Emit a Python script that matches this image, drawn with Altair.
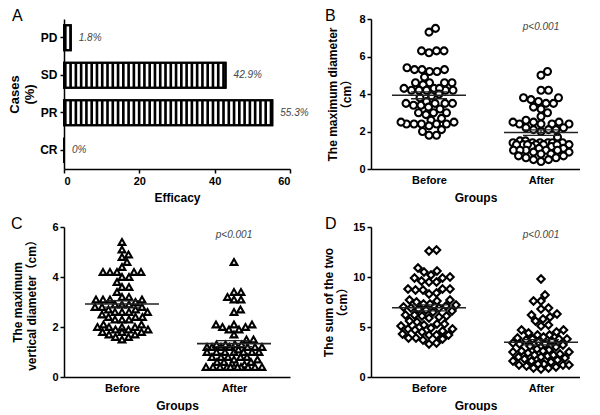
import altair as alt
import numpy as np
import pandas as pd

# ---------------- data ----------------
A_cats = ["CR", "PR", "SD", "PD"]
A_vals = [0.0, 55.3, 42.9, 1.8]
A_labels = ["0%", "55.3%", "42.9%", "1.8%"]

groups = ["Before", "After"]

B_before = [7.3, 7.5, 6.3, 6.3, 6.2, 6.3, 5.3, 5.3, 5.2, 5.2, 5.3, 5.4, 4.9, 4.6, 4.6, 4.6, 4.6, 4.5,
            4.3, 4.2, 4.2, 4.2, 4.3, 4.2, 4.2, 4.3, 4.0, 3.9, 3.8, 3.5, 3.5, 3.4, 3.5, 3.5, 3.4, 3.6,
            3.2, 3.0, 3.0, 2.9, 3.0, 3.3, 2.7, 2.6, 2.4, 2.4, 2.5, 2.4, 2.3, 2.4, 2.4, 2.5, 2.0, 2.1,
            1.8, 1.8]
B_after = [5.0, 5.2, 4.2, 4.2, 3.8, 3.6, 3.5, 3.5, 3.7, 3.8, 3.3, 3.2, 3.0, 2.8, 2.4, 2.4, 2.5, 2.5,
           2.5, 2.6, 2.4, 2.4, 2.2, 2.1, 2.1, 2.0, 2.2, 2.1, 1.7, 1.5, 1.4, 1.4, 1.4, 1.5, 1.4, 1.4,
           1.4, 1.3, 1.3, 1.2, 1.3, 1.3, 1.3, 1.3, 1.2, 1.3, 1.1, 1.0, 1.0, 1.0, 1.1, 1.0, 1.0, 0.9,
           0.8, 0.8, 0.9, 0.7, 0.6, 0.7, 0.6, 0.5, 0.4, 0.5]
C_before = [5.4, 5.1, 4.9, 4.8, 4.6, 4.4, 4.2, 4.2, 4.2, 4.2, 4.2, 4.0, 4.0, 3.8, 3.6, 3.6, 3.4, 3.2,
            3.1, 3.1, 3.1, 3.1, 3.2, 3.0, 2.9, 2.9, 2.8, 2.9, 2.8, 2.8, 2.7, 2.6, 2.6, 2.6, 2.7, 2.6,
            2.5, 2.4, 2.3, 2.3, 2.3, 2.4, 2.4, 2.1, 2.0, 2.0, 2.1, 2.0, 2.0, 1.9, 1.9, 1.9, 1.8, 1.8,
            1.7, 1.6, 1.5, 1.6, 1.7, 1.8]
C_after = [4.6, 3.4, 3.2, 3.1, 3.1, 3.4, 2.7, 2.6, 2.1, 2.1, 2.1, 2.0, 1.9, 1.9, 2.0, 1.7, 1.5, 1.5,
           1.3, 1.3, 1.2, 1.2, 1.2, 1.2, 1.2, 1.3, 1.2, 1.2, 1.3, 1.0, 1.0, 1.0, 1.0, 1.1, 1.0, 1.0,
           1.0, 0.8, 0.8, 0.8, 0.7, 0.8, 0.8, 0.7, 0.6, 0.6, 0.5, 0.6, 0.4, 0.4, 0.4, 0.4, 0.4, 0.4,
           0.4, 0.4, 0.4, 0.4, 0.4]
D_before = [12.6, 12.7, 10.9, 10.6, 10.2, 10.5, 9.9, 9.9, 10.0, 9.6, 9.5, 9.5, 8.8, 8.8, 8.7, 8.7,
            8.8, 8.4, 8.3, 7.7, 7.7, 7.5, 7.6, 7.3, 7.3, 7.2, 7.1, 7.0, 6.9, 6.9, 6.8, 6.7, 6.6, 6.5,
            6.2, 6.1, 6.1, 6.0, 5.9, 6.2, 5.6, 5.5, 5.3, 5.3, 5.2, 5.1, 4.9, 4.8, 4.7, 4.8, 4.5, 4.6,
            4.3, 4.2, 4.2, 4.2, 3.9, 3.9, 3.8, 3.7, 3.4, 3.3]
D_after = [9.8, 8.2, 7.6, 7.6, 6.9, 6.8, 6.3, 6.2, 6.0, 5.8, 5.6, 5.2, 5.1, 4.7, 4.7, 4.5, 4.4, 4.2,
           4.2, 4.0, 3.9, 3.8, 3.8, 3.8, 3.7, 3.6, 3.5, 3.4, 3.3, 3.3, 3.2, 3.1, 3.0, 2.8, 2.7, 2.6,
           2.6, 2.5, 2.5, 2.4, 2.2, 2.1, 2.0, 2.0, 2.2, 2.3, 1.9, 1.8, 1.7, 1.6, 1.6, 1.5, 1.3, 1.2,
           1.2, 1.1, 1.2, 1.3, 1.0, 0.9, 0.9, 0.8]

P_TEXT = "p<0.001"

# ---------------- layout / style ----------------
FONT = "Liberation Sans, Arial, Noto Sans CJK SC, sans-serif"
LEFT_W, RIGHT_W, H = 226, 209, 150
CENTERS = {"Before": 58, "After": 170}


def swarm(vals, ppu, d, maxhalf):
    """Beeswarm offsets (px) limited to +/- maxhalf; overlap allowed when crowded."""
    vals = np.asarray(vals, dtype=float)
    idx = np.argsort(vals, kind="stable")
    placed = []
    offs = np.zeros(len(vals))
    cands_all = [0.0]
    k = 1
    while k * 0.5 <= maxhalf:
        cands_all += [k * 0.5, -k * 0.5]
        k += 1
    for i in idx:
        y = vals[i] * ppu
        best = None
        best_score = -1.0
        for c in cands_all:
            if placed:
                md = min(((c - px) ** 2 + (y - py) ** 2) ** 0.5 for px, py in placed)
            else:
                md = 1e9
            if md >= d:
                best = c
                break
            if md > best_score + 0.3:
                best_score = md
                best = c
        placed.append((best, y))
        offs[i] = best
    return offs


def letter(t, dx):
    return alt.Chart(pd.DataFrame({"t": [t]})).mark_text(
        align="left", baseline="alphabetic", fontSize=16, font=FONT, color="black").encode(
        x=alt.value(dx), y=alt.value(2), text="t:N")


# ---------------- panel A ----------------
ORDER = ["PD", "SD", "PR", "CR"]
dfA = pd.DataFrame({"cat": A_cats, "val": A_vals, "lab": A_labels})
stripes = []
for c, v in zip(A_cats, A_vals):
    for s in np.arange(0, v, 1.4):
        stripes.append({"cat": c, "val": s, "e": min(s + 0.7, v)})
dfS = pd.DataFrame(stripes)

yA = alt.Y("cat:N", sort=ORDER,
           scale=alt.Scale(paddingInner=0.33, paddingOuter=0.165),
           axis=alt.Axis(title=["Cases", "(%)"], titleFontSize=13, labelFontSize=12,
                         labelPadding=3, titlePadding=3))
xA = alt.X("val:Q", scale=alt.Scale(domain=[0, 60], nice=False),
           axis=alt.Axis(values=[0, 20, 40, 60], title="Efficacy", titlePadding=6))

barsBg = alt.Chart(dfA).mark_bar(fill="white", stroke="black", strokeWidth=2).encode(x=xA, y=yA)
barsStripe = alt.Chart(dfS).mark_bar(color="black").encode(x=xA, x2="e:Q", y=yA)
barsOut = alt.Chart(dfA).mark_bar(fill="transparent", stroke="black", strokeWidth=2).encode(
    x=xA, y=yA)
labsA = alt.Chart(dfA).mark_text(align="left", dx=8, fontStyle="italic", fontSize=10,
                                 color="#444", font=FONT).encode(x=xA, y=yA, text="lab:N")

panelA = alt.layer(barsBg, barsStripe, barsOut, labsA, letter("A", -52)).properties(
    width=LEFT_W, height=H)


# ---------------- scatter panels ----------------
def scatter(before, after, ymax, yvalues, ytitle, tpad, shape, size, d, width, let, ldx):
    ppu = H / ymax
    rows = []
    hr = []
    vr = []
    for g, vals in zip(groups, [before, after]):
        offs = swarm(vals, ppu, d, 28)
        for v, o in zip(vals, offs):
            rows.append({"group": g, "v": v, "xp": CENTERS[g] + o})
        arr = np.asarray(vals)
        m = arr.mean()
        se = arr.std(ddof=1) / np.sqrt(len(arr))
        c = CENTERS[g]
        hr.append({"xp": c - 37, "xp2": c + 37, "v": m, "w": 1.6})
        hr.append({"xp": c - 18, "xp2": c + 18, "v": m - se, "w": 1.3})
        hr.append({"xp": c - 18, "xp2": c + 18, "v": m + se, "w": 1.3})
        vr.append({"xp": c, "v": m - se, "v2": m + se})
    df = pd.DataFrame(rows)
    xs = alt.Scale(domain=[0, width], nice=False, zero=False)
    ys = alt.Scale(domain=[0, ymax], nice=False)
    X = alt.X("xp:Q", scale=xs,
              axis=alt.Axis(values=[CENTERS["Before"], CENTERS["After"]], ticks=False,
                            labelExpr="datum.value < 100 ? 'Before' : 'After'",
                            title="Groups", labelPadding=5, titlePadding=7))
    Y = alt.Y("v:Q", scale=ys, axis=alt.Axis(values=yvalues, title=ytitle, titlePadding=tpad,
                                             labelOverlap=False))
    pts = alt.Chart(df).mark_point(shape=shape, filled=True, fill="white", stroke="black",
                                   strokeWidth=2.1, size=size, opacity=1).encode(x=X, y=Y)
    hrules = alt.Chart(pd.DataFrame(hr)).mark_rule(color="#222").encode(
        x=X, x2="xp2:Q", y=Y, strokeWidth=alt.StrokeWidth("w:Q", scale=None, legend=None))
    vrule = alt.Chart(pd.DataFrame(vr)).mark_rule(color="#222", strokeWidth=1.3).encode(
        x=X, y=Y, y2="v2:Q")
    ptxt = alt.Chart(pd.DataFrame({"t": [P_TEXT], "xp": [CENTERS["After"]]})).mark_text(
        fontStyle="italic", fontSize=10, color="#444", font=FONT, baseline="middle").encode(
        x=X, y=alt.value(8), text="t:N")
    return alt.layer(pts, hrules, vrule, ptxt, letter(let, ldx)).properties(
        width=width, height=H)


panelB = scatter(B_before, B_after, 8, [0, 2, 4, 6, 8], ["The maximum diameter", "（cm）"], 5,
                 "circle", 48, 7.5, RIGHT_W, "B", -46)
panelC = scatter(C_before, C_after, 6, [0, 2, 4, 6], ["The maximum", "vertical diameter（cm）"], 13,
                 "triangle-up", 45, 6.8, LEFT_W, "C", -53)
panelD = scatter(D_before, D_after, 15, [0, 5, 10, 15], ["The sum of the two", "（cm）"], 3,
                 "diamond", 55, 7.2, RIGHT_W, "D", -46)

chart = alt.concat(panelA, panelB, panelC, panelD, columns=2,
                   spacing={"row": 58, "column": 81}, bounds="flush").properties(
    padding=0
).configure_view(stroke=None).configure_axis(
    grid=False, domainColor="black", domainWidth=1.5, tickColor="black", tickWidth=1.5,
    tickSize=4, labelFont=FONT, labelFontWeight="bold", labelFontSize=11, labelColor="black",
    titleFont=FONT, titleFontWeight="bold", titleFontSize=12, titleColor="black"
)

chart.save("out.html", embed_options={"renderer": "svg", "actions": False})
